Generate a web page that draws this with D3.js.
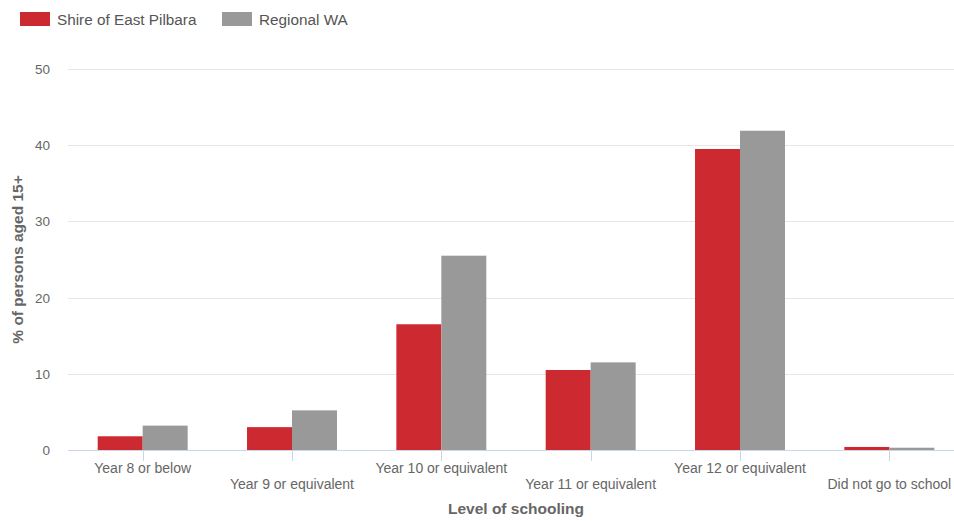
<!DOCTYPE html>
<html>
<head>
<meta charset="utf-8">
<script src="https://cdn.jsdelivr.net/npm/d3@7"></script>
<style>
  html, body { margin: 0; padding: 0; background: #fff; }
  svg { display: block; font-family: "Liberation Sans", Arial, sans-serif; }
</style>
</head>
<body>
<svg id="chart" width="954" height="521"></svg>
<script>
// Highest level of schooling completed, % of persons aged 15+
const categories = [
  "Year 8 or below",
  "Year 9 or equivalent",
  "Year 10 or equivalent",
  "Year 11 or equivalent",
  "Year 12 or equivalent",
  "Did not go to school"
];
const seriesNames = ["Shire of East Pilbara", "Regional WA"];
const eastPilbara = [1.8, 3.0, 16.5, 10.5, 39.5, 0.4];
const regionalWA = [3.2, 5.2, 25.5, 11.5, 41.9, 0.3];
const yTicks = [0, 10, 20, 30, 40, 50];
const colors = ["#cc2a30", "#999999"];

const svg = d3.select("#chart");
const margin = { left: 68, right: 964, top: 69, bottom: 450 };

const x = d3.scaleBand().domain(categories).range([margin.left, margin.right]).paddingInner(0).paddingOuter(0);
const x1 = d3.scaleBand().domain(seriesNames).range([0, x.bandwidth()]).paddingInner(0).paddingOuter(0.66);
const y = d3.scaleLinear().domain([0, 50]).range([margin.bottom, margin.top]);

// Gridlines
svg.append("g").selectAll("line").data(yTicks.filter(d => d > 0)).join("line")
  .attr("x1", margin.left).attr("x2", margin.right)
  .attr("y1", d => Math.round(y(d)) + 0.5).attr("y2", d => Math.round(y(d)) + 0.5)
  .attr("stroke", "#e6e6e6").attr("stroke-width", 1);

// Y tick labels
svg.append("g").selectAll("text").data(yTicks).join("text")
  .attr("x", 50).attr("y", d => y(d) + 5)
  .attr("text-anchor", "end")
  .attr("font-size", 13.5).attr("fill", "#666")
  .text(d => d);

// Bars
const rows = categories.map((c, i) => ({ cat: c, vals: [eastPilbara[i], regionalWA[i]] }));
const groups = svg.append("g").selectAll("g").data(rows).join("g")
  .attr("transform", d => `translate(${x(d.cat)},0)`);
groups.selectAll("rect").data(d => d.vals.map((v, j) => ({ name: seriesNames[j], v, j }))).join("rect")
  .attr("x", d => x1(d.name))
  .attr("width", x1.bandwidth())
  .attr("y", d => y(d.v))
  .attr("height", d => y(0) - y(d.v))
  .attr("fill", d => colors[d.j]);

// X axis line and ticks at category centres
svg.append("line")
  .attr("x1", margin.left).attr("x2", margin.right)
  .attr("y1", y(0) + 0.5).attr("y2", y(0) + 0.5)
  .attr("stroke", "#ccd6eb");
svg.append("g").selectAll("line").data(categories).join("line")
  .attr("x1", d => Math.round(x(d) + x.bandwidth() / 2) + 0.5)
  .attr("x2", d => Math.round(x(d) + x.bandwidth() / 2) + 0.5)
  .attr("y1", y(0)).attr("y2", y(0) + 11)
  .attr("stroke", "#ccd6eb");

// X tick labels, staggered on two rows
svg.append("g").selectAll("text").data(categories).join("text")
  .attr("x", d => x(d) + x.bandwidth() / 2)
  .attr("y", (d, i) => i % 2 === 0 ? 473 : 489)
  .attr("text-anchor", "middle")
  .attr("font-size", 14).attr("fill", "#666")
  .text(d => d);

// Axis titles
svg.append("text")
  .attr("x", (margin.left + margin.right) / 2).attr("y", 514)
  .attr("text-anchor", "middle")
  .attr("font-size", 15.5).attr("font-weight", "bold").attr("fill", "#666")
  .text("Level of schooling");
svg.append("text")
  .attr("transform", `translate(23,${(margin.top + margin.bottom) / 2}) rotate(-90)`)
  .attr("text-anchor", "middle")
  .attr("font-size", 15.5).attr("font-weight", "bold").attr("fill", "#666")
  .text("% of persons aged 15+");

// Legend
const legendX = [20, 222];
const legend = svg.append("g").selectAll("g").data(seriesNames).join("g")
  .attr("transform", (d, i) => `translate(${legendX[i]},12)`);
legend.append("rect").attr("width", 30).attr("height", 14).attr("fill", (d, i) => colors[i]);
legend.append("text").attr("x", 37).attr("y", 12.5)
  .attr("font-size", 15.3).attr("fill", "#555").text(d => d);
</script>
</body>
</html>
